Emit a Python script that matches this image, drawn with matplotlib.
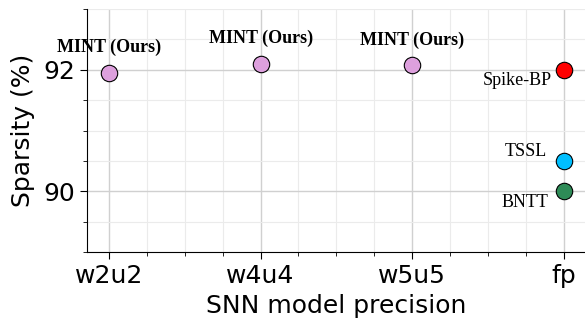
import matplotlib
matplotlib.use("Agg")
import matplotlib.pyplot as plt
from matplotlib.ticker import MultipleLocator

categories = ["w2u2", "w4u4", "w5u5", "fp"]
mint_values = [91.95, 92.1, 92.07]
baseline_names = ["Spike-BP", "TSSL", "BNTT"]
baseline_values = [92.0, 90.5, 90.0]
baseline_colors = ["#ff0000", "#00bfff", "#2e8b57"]

fig = plt.figure(figsize=(5.85, 3.22), dpi=100)
ax = fig.add_axes([87/585, 70/322, (585-87)/585, (252-9)/322])

x = list(range(len(categories)))
ax.scatter(x[:3], mint_values, s=140, color="#dda0dd", edgecolor="black", linewidth=0.8, zorder=3)
for xi, v in zip(x[:3], mint_values):
    ax.annotate("MINT (Ours)", (xi, v), xytext=(0, 12), textcoords="offset points",
                ha="center", va="bottom", fontsize=13, fontweight="bold", family="Liberation Serif")

for name, v, c in zip(baseline_names, baseline_values, baseline_colors):
    ax.scatter([x[3]], [v], s=140, color=c, edgecolor="black", linewidth=0.8, zorder=3)

offsets = {"Spike-BP": (-8.5, -7.5), "TSSL": (-12, 7), "BNTT": (-11, -8)}
for name, v in zip(baseline_names, baseline_values):
    dx, dy = offsets[name]
    ax.annotate(name, (x[3], v), xytext=(dx, dy), textcoords="offset points",
                ha="right", va="center", fontsize=13, family="Liberation Serif")

ax.set_xlim(-0.145, 3.14)
ax.set_ylim(89, 93)
ax.set_xticks(x)
ax.set_xticklabels(categories)
ax.set_yticks([90, 92])
ax.xaxis.set_minor_locator(MultipleLocator(0.25))
ax.yaxis.set_minor_locator(MultipleLocator(0.5))
ax.tick_params(axis="both", which="major", labelsize=18, length=5)
ax.tick_params(axis="both", which="minor", length=3)
ax.grid(True, which="major", color="#d0d0d0", linewidth=1.0)
ax.grid(True, which="minor", color="#ebebeb", linewidth=0.8)
ax.set_axisbelow(True)
for s in ["top", "right"]:
    ax.spines[s].set_visible(False)
ax.set_xlabel("SNN model precision", fontsize=18, labelpad=4.5)
ax.set_ylabel("Sparsity (%)", fontsize=18, labelpad=6)

fig.savefig("out.png", dpi=100)
